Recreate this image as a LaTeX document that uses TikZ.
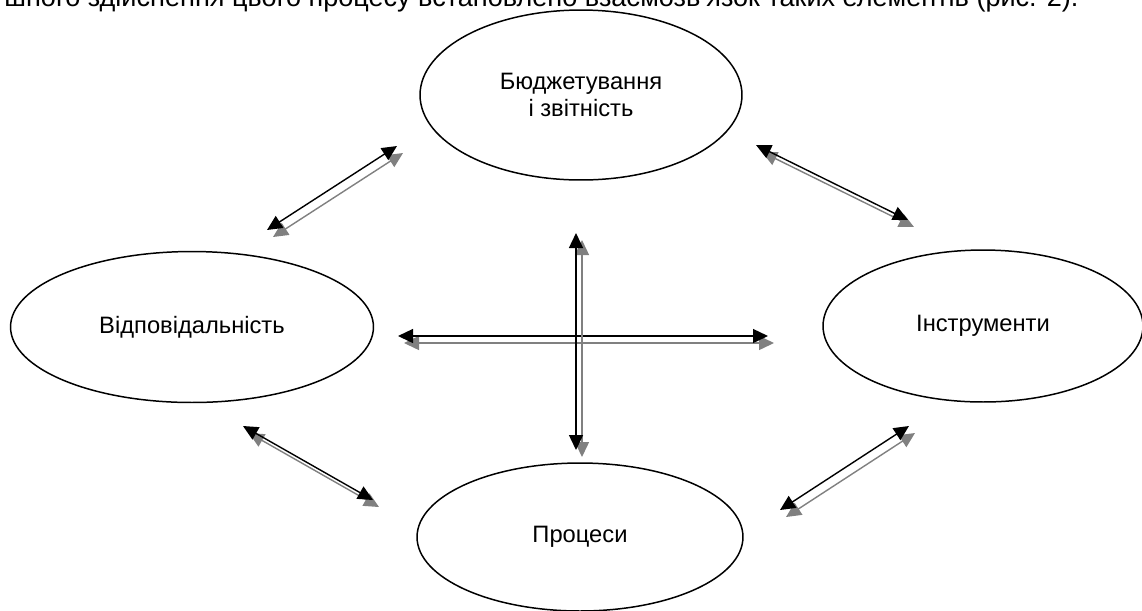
\documentclass[tikz,border=0pt]{standalone}
\usepackage{fontspec}
\setmainfont{Liberation Sans}
\usepackage{xcolor}
\definecolor{shadegray}{HTML}{808080}
\usepackage{tikz}
\usetikzlibrary{arrows.meta, shapes.geometric}

% black arrow with its grey shadow below right
\newcommand{\twoway}[2]{%
  \draw[shadearrow] ([shift={(6,7)}]#1) -- ([shift={(6,7)}]#2);
  \draw[mainarrow] (#1) -- (#2);
}

\begin{document}
\begin{tikzpicture}[
        x=0.02cm, y=-0.02cm,
        every node/.style={font=\fontsize{13.5}{15}\selectfont},
        elem/.style={ellipse, draw, line width=0.85pt, inner sep=0pt, align=center},
        mainarrow/.style={{Triangle[length=0.3cm, width=0.28cm]}-{Triangle[length=0.3cm, width=0.28cm]}, line width=0.8pt, black},
        shadearrow/.style={{Triangle[length=0.3cm, width=0.28cm]}-{Triangle[length=0.3cm, width=0.28cm]}, line width=0.8pt, shadegray}
    ]
    \useasboundingbox (0,0) rectangle (1142,610);

    % --- TEXT LINE ABOVE (cut off) ---
    \node[anchor=base west, inner sep=0pt, font=\fontsize{15.4}{17}\selectfont] (caption) at (4,6)
        {шного здійснення цього процесу встановлено взаємозв’язок таких елементів (рис. 2).};

    % --- ELEMENTS ---
    \node[elem, minimum width=6.44cm, minimum height=3.4cm] (budget) at (581,95)
        {Бюджетування\\і звітність};
    \node[elem, minimum width=7.26cm, minimum height=3.02cm] (resp) at (192,327)
        {Відповідальність};
    \node[elem, minimum width=6.4cm, minimum height=3.04cm] (tools) at (983,326)
        {Інструменти};
    \node[elem, minimum width=6.52cm, minimum height=2.96cm] (proc) at (580,537)
        {Процеси};

    % --- ARROW ENDS ---
    \coordinate (tl-a) at (267,230);
    \coordinate (tl-b) at (397,146);
    \coordinate (tr-a) at (756,145);
    \coordinate (tr-b) at (908,220);
    \coordinate (h-a) at (398,336);
    \coordinate (h-b) at (768,336);
    \coordinate (v-a) at (576,233);
    \coordinate (v-b) at (576,450);
    \coordinate (bl-a) at (243,426);
    \coordinate (bl-b) at (373,500);
    \coordinate (br-a) at (909,426);
    \coordinate (br-b) at (780,510);

    % --- ARROWS ---
    \twoway{tl-a}{tl-b}
    \twoway{tr-a}{tr-b}
    \twoway{h-a}{h-b}
    \twoway{v-a}{v-b}
    \twoway{bl-a}{bl-b}
    \twoway{br-a}{br-b}

\end{tikzpicture}
\end{document}
